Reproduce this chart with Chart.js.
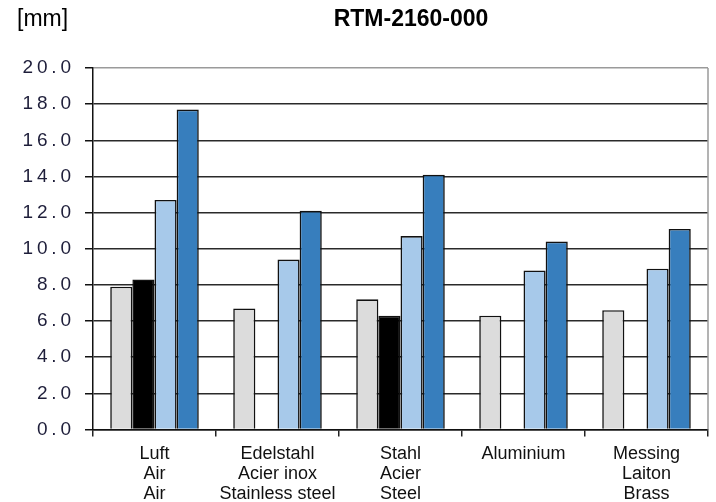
<!DOCTYPE html>
<html>
<head>
<meta charset="utf-8">
<script src="https://cdn.jsdelivr.net/npm/chart.js@4/dist/chart.umd.min.js"></script>
<style>
  html, body { margin: 0; padding: 0; background: #fff; }
  #wrap { width: 716px; height: 502px; position: relative; }
</style>
</head>
<body>
<div id="wrap"><canvas id="c" width="716" height="502"></canvas></div>
<script>
const categories = [
  ["Luft", "Air", "Air"],
  ["Edelstahl", "Acier inox", "Stainless steel"],
  ["Stahl", "Acier", "Steel"],
  ["Aluminium"],
  ["Messing", "Laiton", "Brass"]
];
const series1 = [7.9, 6.7, 7.2, 6.3, 6.6];
const series2 = [8.3, null, 6.3, null, null];
const series3 = [12.7, 9.4, 10.7, 8.8, 8.9];
const series4 = [17.7, 12.1, 14.1, 10.4, 11.1];
const yTicks = [0, 2, 4, 6, 8, 10, 12, 14, 16, 18, 20];
const unitLabel = "[mm]";
const chartTitle = "RTM-2160-000";

const colors = ["#dcdcdc", "#000000", "#a7c9ea", "#377ebd"];

const frame = {
  id: 'frame',
  afterDraw(chart) {
    const ctx = chart.ctx, a = chart.chartArea;
    ctx.save();
    ctx.strokeStyle = '#9a9a9a';
    ctx.lineWidth = 1.5;
    ctx.beginPath();
    ctx.moveTo(a.right, a.top);
    ctx.lineTo(a.right, a.bottom);
    ctx.stroke();
    ctx.fillStyle = '#000';
    ctx.textBaseline = 'middle';
    ctx.font = '23px "Liberation Sans", Arial, sans-serif';
    ctx.textAlign = 'left';
    ctx.fillText(unitLabel, 17, 20);
    ctx.font = 'bold 23px "Liberation Sans", Arial, sans-serif';
    ctx.textAlign = 'center';
    ctx.fillText(chartTitle, 411, 20);
    ctx.restore();
  }
};

new Chart(document.getElementById('c'), {
  type: 'bar',
  data: {
    labels: categories,
    datasets: [series1, series2, series3, series4].map((d, i) => ({
      label: 'S' + (i + 1),
      data: d,
      backgroundColor: colors[i],
      borderColor: '#111',
      borderWidth: 1.6,
      borderSkipped: 'bottom',
      barPercentage: 1,
      categoryPercentage: 0.72
    }))
  },
  options: {
    responsive: false,
    animation: false,
    devicePixelRatio: 1,
    layout: { padding: { top: 68, left: 8, right: 8, bottom: -9 } },
    plugins: { legend: { display: false }, tooltip: { enabled: false }, title: { display: false } },
    scales: {
      x: {
        offset: true,
        grid: { display: true, drawOnChartArea: false, offset: true, tickLength: 7, color: '#222', lineWidth: 1.5 },
        border: { color: '#111', width: 1.5 },
        ticks: {
          color: '#111',
          padding: 7,
          maxRotation: 0,
          autoSkip: false,
          font: { family: '"Liberation Sans", Arial, sans-serif', size: 18, lineHeight: 1.12 }
        }
      },
      y: {
        min: 0,
        max: 20,
        afterBuildTicks(scale) { scale.ticks = yTicks.map(v => ({ value: v })); },
        afterFit(scale) { scale.width = 85; },
        grid: {
          color: ctx => (ctx.tick && ctx.tick.value === 20) ? '#9a9a9a' : '#2a2a2a',
          lineWidth: 1.5,
          tickLength: 8,
          tickColor: '#111'
        },
        border: { color: '#111', width: 1.5 },
        ticks: {
          color: '#1e1e3a',
          padding: 14,
          font: { family: '"Liberation Sans", Arial, sans-serif', size: 19 },
          callback: v => Number(v).toFixed(1).split('').join('\u2009')
        }
      }
    }
  },
  plugins: [frame]
});
</script>
</body>
</html>
